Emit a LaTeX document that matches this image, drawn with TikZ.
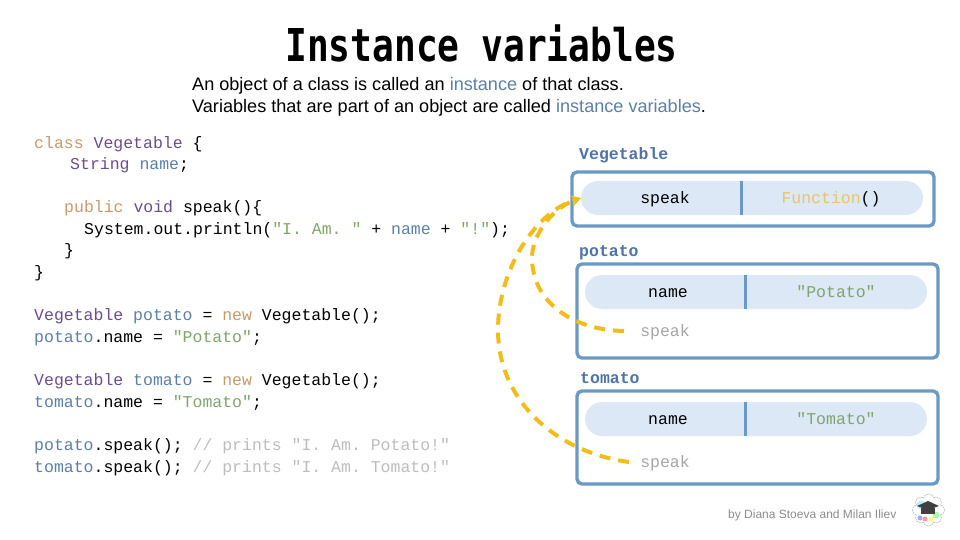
\documentclass[tikz,border=0pt]{standalone}
\usepackage{fontspec}
\usetikzlibrary{arrows.meta}
\setmainfont{Liberation Sans}
\setmonofont{Liberation Mono}
\newfontfamily\titlefont{DejaVu Sans Mono}
\definecolor{kwcol}{HTML}{C79A6B}
\definecolor{tycol}{HTML}{6B4C8C}
\definecolor{varcol}{HTML}{5B7FA6}
\definecolor{strcol}{HTML}{7FA56B}
\definecolor{cmtcol}{HTML}{BDBDBD}
\definecolor{boxcol}{HTML}{6A9AC4}
\definecolor{pillcol}{HTML}{DCE8F5}
\definecolor{linkcol}{HTML}{F2BC1B}
\definecolor{headcol}{HTML}{4F73A8}
\definecolor{funcol}{HTML}{E8C46A}
\newcommand{\kw}[1]{\textcolor{kwcol}{#1}}
\newcommand{\ty}[1]{\textcolor{tycol}{#1}}
\newcommand{\vr}[1]{\textcolor{varcol}{#1}}
\newcommand{\str}[1]{\textcolor{strcol}{#1}}
\newcommand{\cmt}[1]{\textcolor{cmtcol}{#1}}
\tikzset{
  code/.style={anchor=base west,inner sep=0pt,font=\fontsize{16.5}{16.5}\selectfont\ttfamily},
  cell/.style={anchor=base,inner sep=0pt,font=\fontsize{16.5}{16.5}\selectfont\ttfamily},
  head/.style={code,font=\fontsize{16.5}{16.5}\selectfont\ttfamily\bfseries,text=headcol},
  intro/.style={anchor=base west,inner sep=0pt,font=\fontsize{18.1}{18.1}\selectfont},
  objbox/.style={draw=boxcol,line width=3.4,rounded corners=5},
  pill/.style={fill=pillcol,rounded corners=17},
  divide/.style={draw=boxcol,line width=3},
  link/.style={draw=linkcol,line width=4,dash pattern=on 11 off 8,-{Stealth[length=9,width=10]}}
}
\begin{document}
\begin{tikzpicture}[x=1pt,y=-1pt]
  \useasboundingbox (0,0) rectangle (960,540);

  \node[anchor=base,inner sep=0pt,font=\fontsize{36.2}{36.2}\selectfont\titlefont\bfseries] (title) at (481.5,62) {\scalebox{1}[1.25]{Instance variables}};
  \node[intro] (intro1) at (192,91) {An object of a class is called an \textcolor{varcol}{instance} of that class.};
  \node[intro] (intro2) at (192,113) {Variables that are part of an object are called \textcolor{varcol}{instance variables}.};

  % class
  \node[code] (c1) at (34,149) {\kw{class} \ty{Vegetable} \{};
  \node[code] (c2) at (70,170) {\ty{String} \vr{name};};
  \node[code] (c3) at (64,212) {\kw{public} \ty{void} speak()\{};
  \node[code] (c4) at (84,234) {System.out.println(\str{"I. Am. "} + \vr{name} + \str{"!"});};
  \node[code] (c5) at (64,255) {\}};
  \node[code] (c6) at (34,277) {\}};

  % objects
  \node[code] (c7) at (34,320) {\ty{Vegetable} \vr{potato} = \kw{new} Vegetable();};
  \node[code] (c8) at (34,342) {\vr{potato}.name = \str{"Potato"};};
  \node[code] (c9) at (34,385) {\ty{Vegetable} \vr{tomato} = \kw{new} Vegetable();};
  \node[code] (c10) at (34,407) {\vr{tomato}.name = \str{"Tomato"};};
  \node[code] (c11) at (34,450) {\vr{potato}.speak(); \cmt{// prints "I. Am. Potato!"}};
  \node[code] (c12) at (34,472) {\vr{tomato}.speak(); \cmt{// prints "I. Am. Tomato!"}};

  % Vegetable box
  \node[head] (veghead) at (579,160) {Vegetable};
  \draw[objbox] (572,172) rectangle (934,226);
  \fill[pill] (581,181) rectangle (923,215);
  \draw[divide] (741,181) -- (741,215);
  \coordinate (vegspeak) at (581,198);
  \node[cell] (vegkey) at (665,204) {speak};
  \node[cell] (vegval) at (831,204) {\textcolor{funcol}{Function}()};

  % potato box
  \node[head] (pothead) at (579,256) {potato};
  \draw[objbox] (577,264) rectangle (938,358);
  \fill[pill] (585,275) rectangle (927,309);
  \draw[divide] (745,275) -- (745,309);
  \node[cell] (potkey) at (668,297) {name};
  \node[cell] (potval) at (836,297) {\str{"Potato"}};
  \node[cell,text=black!35] (potspeak) at (665,336) {speak};

  % tomato box
  \node[head] (tomhead) at (580,383) {tomato};
  \draw[objbox] (577,391) rectangle (938,484);
  \fill[pill] (585,402) rectangle (927,436);
  \draw[divide] (745,402) -- (745,436);
  \node[cell] (tomkey) at (668,424) {name};
  \node[cell] (tomval) at (836,424) {\str{"Tomato"}};
  \node[cell,text=black!35] (tomspeak) at (665,467) {speak};

  % links
  \coordinate (potend) at (624,331);
  \coordinate (tomend) at (629,462);
  \draw[link] (potend) .. controls (570,330) and (532,300) .. (532,258) .. controls (532,235) and (552,208) .. (vegspeak);
  \draw[link] (tomend) .. controls (555,452) and (498,400) .. (498,330) .. controls (498,270) and (535,212) .. (vegspeak);

  \node[anchor=base west,inner sep=0pt,text=black!45,font=\fontsize{12}{12}\selectfont] (credit) at (728,518) {by Diana Stoeva and Milan Iliev};

  % logo
  \foreach \a in {0,45,...,315} \draw[black!30,line width=0.6] (928.5,510)+(\a:10.5) circle[radius=5.5];
  \foreach \a in {0,45,...,315} \fill[white] (928.5,510)+(\a:10.5) circle[radius=5.2];
  \fill[white] (928.5,510) circle[radius=11];
  \fill[cyan!25] (921,505) circle[radius=4.5];
  \fill[green!35] (936,515) circle[radius=3.5];
  \fill[yellow!50] (931,519) circle[radius=2.5];
  \fill[red!40] (925,519) circle[radius=2.5];
  \fill[blue!35] (920,518) circle[radius=2.5];
  \fill[black!75] (917,506) -- (928,501) -- (939,506) -- (928,510) -- cycle;
  \fill[black!75] (921,508) rectangle (935,514);
\end{tikzpicture}
\end{document}
